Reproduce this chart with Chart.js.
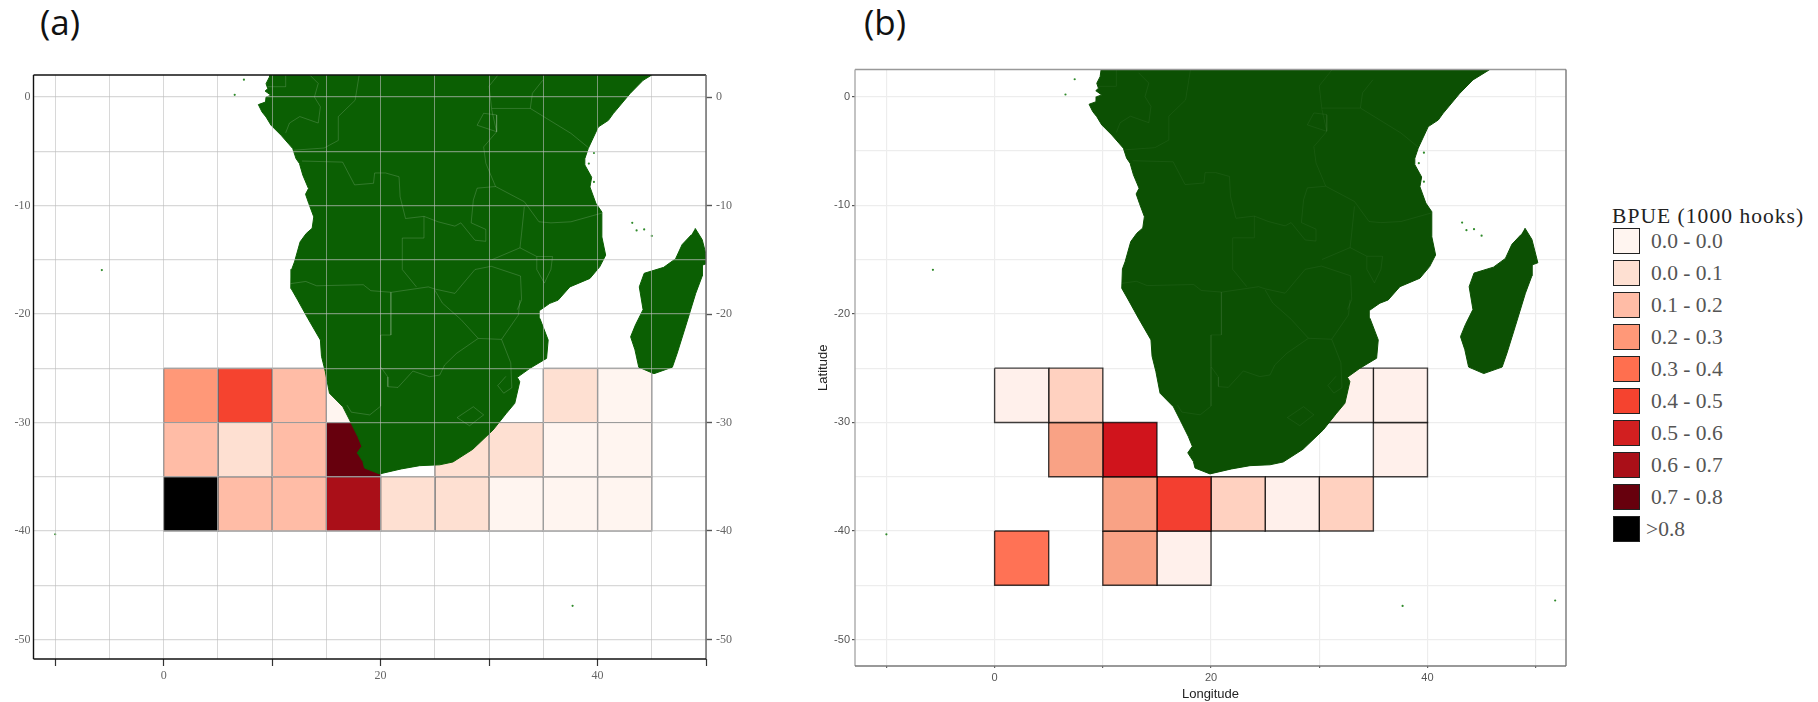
<!DOCTYPE html>
<html>
<head>
<meta charset="utf-8">
<title>BPUE maps</title>
<script src="https://cdn.jsdelivr.net/npm/chart.js@4"></script>
<style>
  html, body { margin: 0; padding: 0; background: #fff; }
  #page { position: relative; width: 1818px; height: 702px; overflow: hidden; }
  canvas { position: absolute; top: 0; }
  #chartA { left: 0; }
  #chartB { left: 780px; }
  .tag { position: absolute; top: -2px; font: 35px "Open Sans", sans-serif; color: #111; }
  #legend { position: absolute; left: 1612px; top: 201px; font-family: "Liberation Serif", serif; }
  #legendTitle { margin-top: 2px; font-size: 21.5px; letter-spacing: 1.05px; color: #222; line-height: 26px; white-space: nowrap; }
  .row { position: absolute; left: 0; height: 28px; white-space: nowrap; }
  .swatch { position: absolute; left: 1px; top: 0; width: 25px; height: 24px; border: 1.5px solid #222; }
  .rowLabel { position: absolute; left: 39px; top: -1px; font-size: 21.5px; color: #555; line-height: 28px; }
</style>
</head>
<body>
<div id="page">
  <div class="tag" style="left:40px">(a)</div>
  <div class="tag" style="left:864px">(b)</div>
  <canvas id="chartA" width="770" height="702"></canvas>
  <canvas id="chartB" width="810" height="702"></canvas>
  <div id="legend"><div id="legendTitle">BPUE (1000 hooks)</div></div>
</div>
<script>
// legend bins
const binLabels = ["0.0 - 0.0", "0.0 - 0.1", "0.1 - 0.2", "0.2 - 0.3", "0.3 - 0.4", "0.4 - 0.5", "0.5 - 0.6", "0.6 - 0.7", "0.7 - 0.8", ">0.8"];
const binColors = ["#FFF5F0", "#FEE0D2", "#FFBCA6", "#FF9878", "#FF6F4F", "#F5432F", "#D21F20", "#AA0F18", "#67000D", "#000000"];
const binColorsB = ["#FFF0EB", "#FEE0D2", "#FFD1C0", "#F9A285", "#FF7255", "#F33F30", "#D0141C", "#AA0F18", "#67000D", "#000000"];

// grid cells, lon = west edge, lat = north edge, bin = index in binLabels
const cellsLonA = [0, 5, 10, 15, 35, 40, 0, 5, 10, 15, 25, 30, 35, 40, 0, 5, 10, 15, 20, 25, 30, 35, 40];
const cellsLatA = [-25, -25, -25, -25, -25, -25, -30, -30, -30, -30, -30, -30, -30, -30, -35, -35, -35, -35, -35, -35, -35, -35, -35];
const cellsBinA = [3, 5, 2, 0, 1, 0, 2, 1, 2, 8, 1, 1, 0, 0, 9, 2, 2, 7, 1, 1, 0, 0, 0];

const cellsLonB = [0, 5, 30, 35, 5, 10, 35, 10, 15, 20, 25, 30, 0, 10, 15];
const cellsLatB = [-25, -25, -25, -25, -30, -30, -30, -35, -35, -35, -35, -35, -40, -40, -40];
const cellsBinB = [0, 2, 0, 0, 3, 6, 0, 3, 5, 2, 0, 2, 4, 3, 0];

// land outlines
const coastLon = [9.85, 9.84, 9.75, 9.44, 9.6, 9.35, 9.9, 9.44, 9.39, 8.73, 9.07, 9.44, 9.9, 10.83, 11.9, 12.2, 12.52, 12.83, 13.35, 13.08, 13.38, 13.84, 13.69, 13.14, 12.58, 12.06, 11.81, 11.75, 12.36, 13.29, 14.45, 14.55, 14.9, 15.29, 16.52, 17.14, 17.9, 18.27, 17.85, 18.37, 18.52, 19.9, 21.9, 23.6, 25.45, 26.67, 28.5, 30.37, 31.6, 32.37, 32.83, 32.6, 33.76, 35.3, 35.45, 34.68, 34.62, 35.6, 36.37, 37.45, 39.3, 40.2, 40.75, 40.4, 40.4, 39.85, 39.3, 39.46, 38.83, 38.83, 39.14, 40.07, 41, 41.45, 42.99, 44.2, 45.7, 46.3];
const coastLat = [3, 2.46, 1.84, 1.23, 0.77, 0.55, 0.16, 0, -0.46, -0.7, -1.38, -1.84, -2.6, -3.53, -4.75, -5.67, -6.13, -7.2, -8.44, -8.96, -9.82, -11.05, -12.1, -12.58, -13.35, -15.2, -15.87, -17.65, -18.72, -20.4, -22.4, -23.9, -25.3, -27.31, -28.55, -29.77, -31.3, -32.2, -32.8, -33.6, -34.2, -34.74, -34.28, -33.98, -33.9, -33.64, -32.47, -30.69, -29.15, -28.23, -26.24, -25.84, -25.01, -24.09, -22.4, -20.4, -19.7, -19.02, -18.72, -17.5, -16.72, -15.65, -14.58, -12.9, -10.6, -9.8, -8.29, -7.4, -6.26, -5.68, -4.75, -2.76, -2.15, -1.53, 0.31, 1.54, 2.46, 3];

const madagascarLon = [49, 49.65, 50.2, 49.65, 49.65, 49.05, 48.1, 47.35, 46.9, 45.2, 43.8, 43.45, 43.05, 43.5, 44.2, 43.85, 44.3, 46.1, 47.2, 47.8, 48.65];
const madagascarLat = [-12.1, -13.15, -15.3, -15.5, -16.5, -18.1, -21.2, -23.6, -24.9, -25.5, -24.9, -23.3, -22.1, -21, -19.6, -17.5, -16.25, -15.7, -14.9, -13.6, -12.7];

const islandLon = [6.55, 7.4, -5.7, -10, 43.2, 43.6, 44.3, 45, 37.7, 51.8, 39.67, 39.2, 39.67];
const islandLat = [0.2, 1.6, -15.95, -40.3, -11.6, -12.3, -12.2, -12.8, -46.9, -46.4, -5.16, -6.13, -7.83];

// country borders, each one lon,lat,lon,lat...
const borderLines = [
  [11.7, -17.2, 13.1, -17, 14.1, -17.4, 18.4, -17.3, 19.1, -17.85, 21, -18, 24.4, -17.5, 25, -17.7, 26.85, -18.1, 28.7, -15.9, 30.2, -15.6, 32.9, -16.5, 33, -18.7, 32.6, -19.6],
  [23.3, -17.5, 22, -15.9, 22, -13, 24, -13, 24, -11, 22.3, -11.2, 21.8, -9.2, 21.7, -7.35, 20.45, -7, 19.45, -7, 19.35, -7.95, 17.6, -8.1, 16.5, -6, 12.75, -5.9],
  [24, -11, 25.3, -11.5, 26.85, -11.9, 27.4, -11.6, 28.7, -13.2, 29.7, -13.3, 29.7, -12.2, 28.35, -11.6, 28.55, -9.5, 28.9, -8.4, 30.6, -8.25],
  [30.6, -8.25, 33.25, -9.65, 34.6, -11.5, 35.7, -11.6, 37.55, -11.5, 40.4, -10.7],
  [30.6, -8.25, 29.7, -6.1, 29.5, -4.6, 30.7, -3.2, 30.25, -1.2, 30, 1, 31.2, 2.5],
  [30.25, -1.05, 33.8, -1.05, 37.55, -3.35, 39.14, -4.65],
  [33.8, -1.05, 34, 0.35, 34.95, 1.55],
  [33.25, -10.1, 33, -12.55, 32.85, -13.9, 30.25, -15],
  [32.85, -13.9, 34.4, -14.7, 35.85, -14.7, 35.7, -15.9, 35.1, -17.15, 34.4, -15.9, 34.4, -14.7],
  [12, -4.9, 14.8, -4.7, 16.1, -4, 16.1, -1.8, 17.65, -0.3, 18.1, 2.5],
  [9.6, 0.95, 11.25, 0.95, 11.25, 2.5],
  [11.25, -3.3, 11.6, -2.4, 12.55, -1.8, 14.25, -2.4, 14.45, -0.9, 13.9, 0, 14.25, 1.25, 13.3, 2.2],
  [29.5, -1.5, 30.7, -1.65, 30.7, -3.2, 28.9, -2.6, 29.5, -1.5],
  [20.95, -18, 20.95, -21.94, 20, -21.94, 20, -24.86, 20.67, -25.8, 20.67, -26.7, 21.6, -26.77, 22.98, -25.26, 24.5, -25.78, 25.45, -25.63, 25.9, -24.7, 27, -23.63, 29, -22.25, 31.15, -22.34],
  [29, -22.25, 27.4, -20.5, 25.7, -19, 25, -17.8],
  [31.15, -22.34, 32, -24.5, 32.1, -26.8],
  [31.55, -25.75, 30.8, -26.6, 31.35, -27.3, 32.1, -26.8],
  [28.55, -28.55, 29.5, -29.3, 28.2, -30.3, 27.05, -29.55, 28.55, -28.55],
  [20, -24.86, 20, -28.5, 19, -29.3, 17.3, -29.05, 16.9, -28.4],
  [31.15, -22.34, 32.7, -20.1, 32.85, -18.7]
];

// axis ticks
const lonGridA = [-10, -5, 0, 5, 10, 15, 20, 25, 30, 35, 40, 45, 50];
const lonGridB = [-10, 0, 10, 20, 30, 40, 50];
const latGrid = [0, -5, -10, -15, -20, -25, -30, -35, -40, -45, -50];
const lonLabels = [0, 20, 40];
const latLabels = [0, -10, -20, -30, -40, -50];

function setTicks(values) {
  return (scale) => {
    scale.ticks = values.map((value) => ({ value }));
  };
}

function labelOnly(values) {
  return (value) => (values.includes(value) ? String(value) : "");
}

function toPoints(lons, lats) {
  return lons.map((lon, i) => ({ x: lon, y: lats[i] }));
}

function pairsToPoints(line) {
  const pts = [];
  for (let i = 0; i < line.length; i += 2) pts.push({ x: line[i], y: line[i + 1] });
  return pts;
}

// datasets: cells at the bottom, then land, borders and islands
function mapDatasets(lons, lats, bins, colors, cellBorder, cellWidth, land, border) {
  const sets = [];
  lons.forEach((lon, i) => {
    const lat = lats[i];
    sets.push({
      data: [{ x: lon, y: lat }, { x: lon + 5, y: lat }, { x: lon + 5, y: lat - 5 }, { x: lon, y: lat - 5 }, { x: lon, y: lat }],
      showLine: true,
      fill: "shape",
      backgroundColor: colors[bins[i]],
      borderColor: cellBorder,
      borderWidth: cellWidth,
      pointRadius: 0,
      tension: 0,
      order: 5
    });
  });
  [toPoints(coastLon, coastLat), toPoints(madagascarLon, madagascarLat)].forEach((pts) => {
    sets.push({ data: pts, showLine: true, fill: "shape", backgroundColor: land, borderColor: land, borderWidth: 1, pointRadius: 0, tension: 0, order: 3 });
  });
  borderLines.forEach((line) => {
    sets.push({ data: pairsToPoints(line), showLine: true, fill: false, borderColor: border, borderWidth: 1, pointRadius: 0, tension: 0, order: 2 });
  });
  sets.push({ data: toPoints(islandLon, islandLat), showLine: false, pointRadius: 1.1, backgroundColor: "#2f8a2a", pointBackgroundColor: "#2f8a2a", pointBorderColor: "#2f8a2a", pointBorderWidth: 0, order: 1 });
  return sets;
}

// frame round the plot, each panel has its own side colours
const framePlugin = {
  id: "frame",
  afterDraw(chart, args, opts) {
    const { ctx, chartArea: a } = chart;
    const side = (x1, y1, x2, y2, color) => {
      ctx.save();
      ctx.strokeStyle = color;
      ctx.lineWidth = opts.width;
      ctx.beginPath();
      ctx.moveTo(x1, y1);
      ctx.lineTo(x2, y2);
      ctx.stroke();
      ctx.restore();
    };
    side(a.left, a.top, a.right, a.top, opts.top);
    side(a.left, a.top, a.left, a.bottom, opts.left);
    side(a.right, a.top, a.right, a.bottom, opts.right);
    side(a.left, a.bottom, a.right, a.bottom, opts.bottom);
  }
};

const serifTick = { family: "Liberation Serif", size: 12 };
const sansTick = { family: "Liberation Sans", size: 11 };

new Chart(document.getElementById("chartA"), {
  type: "scatter",
  data: { datasets: mapDatasets(cellsLonA, cellsLatA, cellsBinA, binColors, "#666", 1.2, "#0B5F03", "rgba(255,255,255,0.16)") },
  plugins: [framePlugin],
  options: {
    responsive: false,
    animation: false,
    devicePixelRatio: 1,
    layout: { padding: { top: 75 } },
    plugins: {
      legend: { display: false },
      tooltip: { enabled: false },
      frame: { width: 1.4, top: "#111", left: "#111", bottom: "#111", right: "#666" }
    },
    scales: {
      x: {
        type: "linear", min: -12, max: 50,
        afterBuildTicks: setTicks(lonGridA),
        afterFit(scale) { scale.height = 43; },
        border: { display: false },
        grid: {
          z: 1,
          color: "rgba(190,190,190,0.6)",
          lineWidth: 1,
          tickLength: 7,
          tickWidth: 1.2,
          tickColor: (ctx) => (ctx.tick && ctx.tick.value % 10 === 0 ? "#333" : "rgba(0,0,0,0)")
        },
        ticks: { autoSkip: false, maxRotation: 0, padding: 3, color: "#666", font: serifTick, callback: labelOnly(lonLabels) }
      },
      y: {
        type: "linear", min: -51.8, max: 2.03,
        afterBuildTicks: setTicks(latGrid),
        afterFit(scale) { scale.width = 33.5; },
        border: { display: false },
        grid: { z: 1, color: "rgba(190,190,190,0.6)", lineWidth: 1.3, drawTicks: false },
        ticks: { autoSkip: false, padding: 3, color: "#666", font: serifTick, callback: labelOnly(latLabels) }
      },
      yRight: {
        type: "linear", position: "right", min: -51.8, max: 2.03,
        afterBuildTicks: setTicks(latGrid),
        afterFit(scale) { scale.width = 64; },
        border: { display: false },
        grid: {
          drawOnChartArea: false,
          tickLength: 6,
          tickWidth: 1.4,
          tickColor: (ctx) => (ctx.tick && ctx.tick.value % 10 === 0 ? "#555" : "rgba(0,0,0,0)")
        },
        ticks: { autoSkip: false, padding: 4, color: "#666", font: serifTick, callback: labelOnly(latLabels) }
      }
    }
  }
});

new Chart(document.getElementById("chartB"), {
  type: "scatter",
  data: { datasets: mapDatasets(cellsLonB, cellsLatB, cellsBinB, binColorsB, "rgba(0,0,0,0.75)", 1.4, "#0C5003", "rgba(255,255,255,0.05)") },
  plugins: [framePlugin],
  options: {
    responsive: false,
    animation: false,
    devicePixelRatio: 1,
    layout: { padding: { top: 69.5, right: 24 } },
    plugins: {
      legend: { display: false },
      tooltip: { enabled: false },
      frame: { width: 1.4, top: "#999", left: "#aaa", bottom: "#777", right: "#777" }
    },
    scales: {
      x: {
        type: "linear", min: -12.9, max: 52.8,
        afterBuildTicks: setTicks(lonGridB),
        afterFit(scale) { scale.height = 36; },
        border: { display: false },
        title: { display: true, text: "Longitude", color: "#222", font: { family: "Liberation Sans", size: 13 }, padding: { top: 4, bottom: 0 } },
        grid: {
          color: "#ededed",
          lineWidth: 1.2,
          tickLength: 2,
          tickColor: "#666"
        },
        ticks: { autoSkip: false, maxRotation: 0, padding: 3, color: "#555", font: sansTick, callback: labelOnly(lonLabels) }
      },
      y: {
        type: "linear", min: -52.43, max: 2.5,
        afterBuildTicks: setTicks(latGrid),
        afterFit(scale) { scale.width = 75; },
        border: { display: false },
        title: { display: true, text: "Latitude", color: "#222", font: { family: "Liberation Sans", size: 13 }, padding: { top: 36, bottom: 0 } },
        grid: {
          color: "#ededed",
          lineWidth: 1.2,
          tickLength: 3,
          tickColor: (ctx) => (ctx.tick && ctx.tick.value % 10 === 0 ? "#555" : "rgba(0,0,0,0)")
        },
        ticks: { autoSkip: false, padding: 2, color: "#555", font: sansTick, callback: labelOnly(latLabels) }
      }
    }
  }
});

// legend on the right, built from the bin arrays
const legendEl = document.getElementById("legend");
binLabels.forEach((label, i) => {
  const row = document.createElement("div");
  row.className = "row";
  row.style.top = 27 + i * 32 + "px";
  const swatch = document.createElement("div");
  swatch.className = "swatch";
  swatch.style.background = binColors[i];
  const text = document.createElement("div");
  text.className = "rowLabel";
  text.textContent = label;
  if (label === ">0.8") text.style.left = "34px";
  row.appendChild(swatch);
  row.appendChild(text);
  legendEl.appendChild(row);
});
</script>
</body>
</html>
